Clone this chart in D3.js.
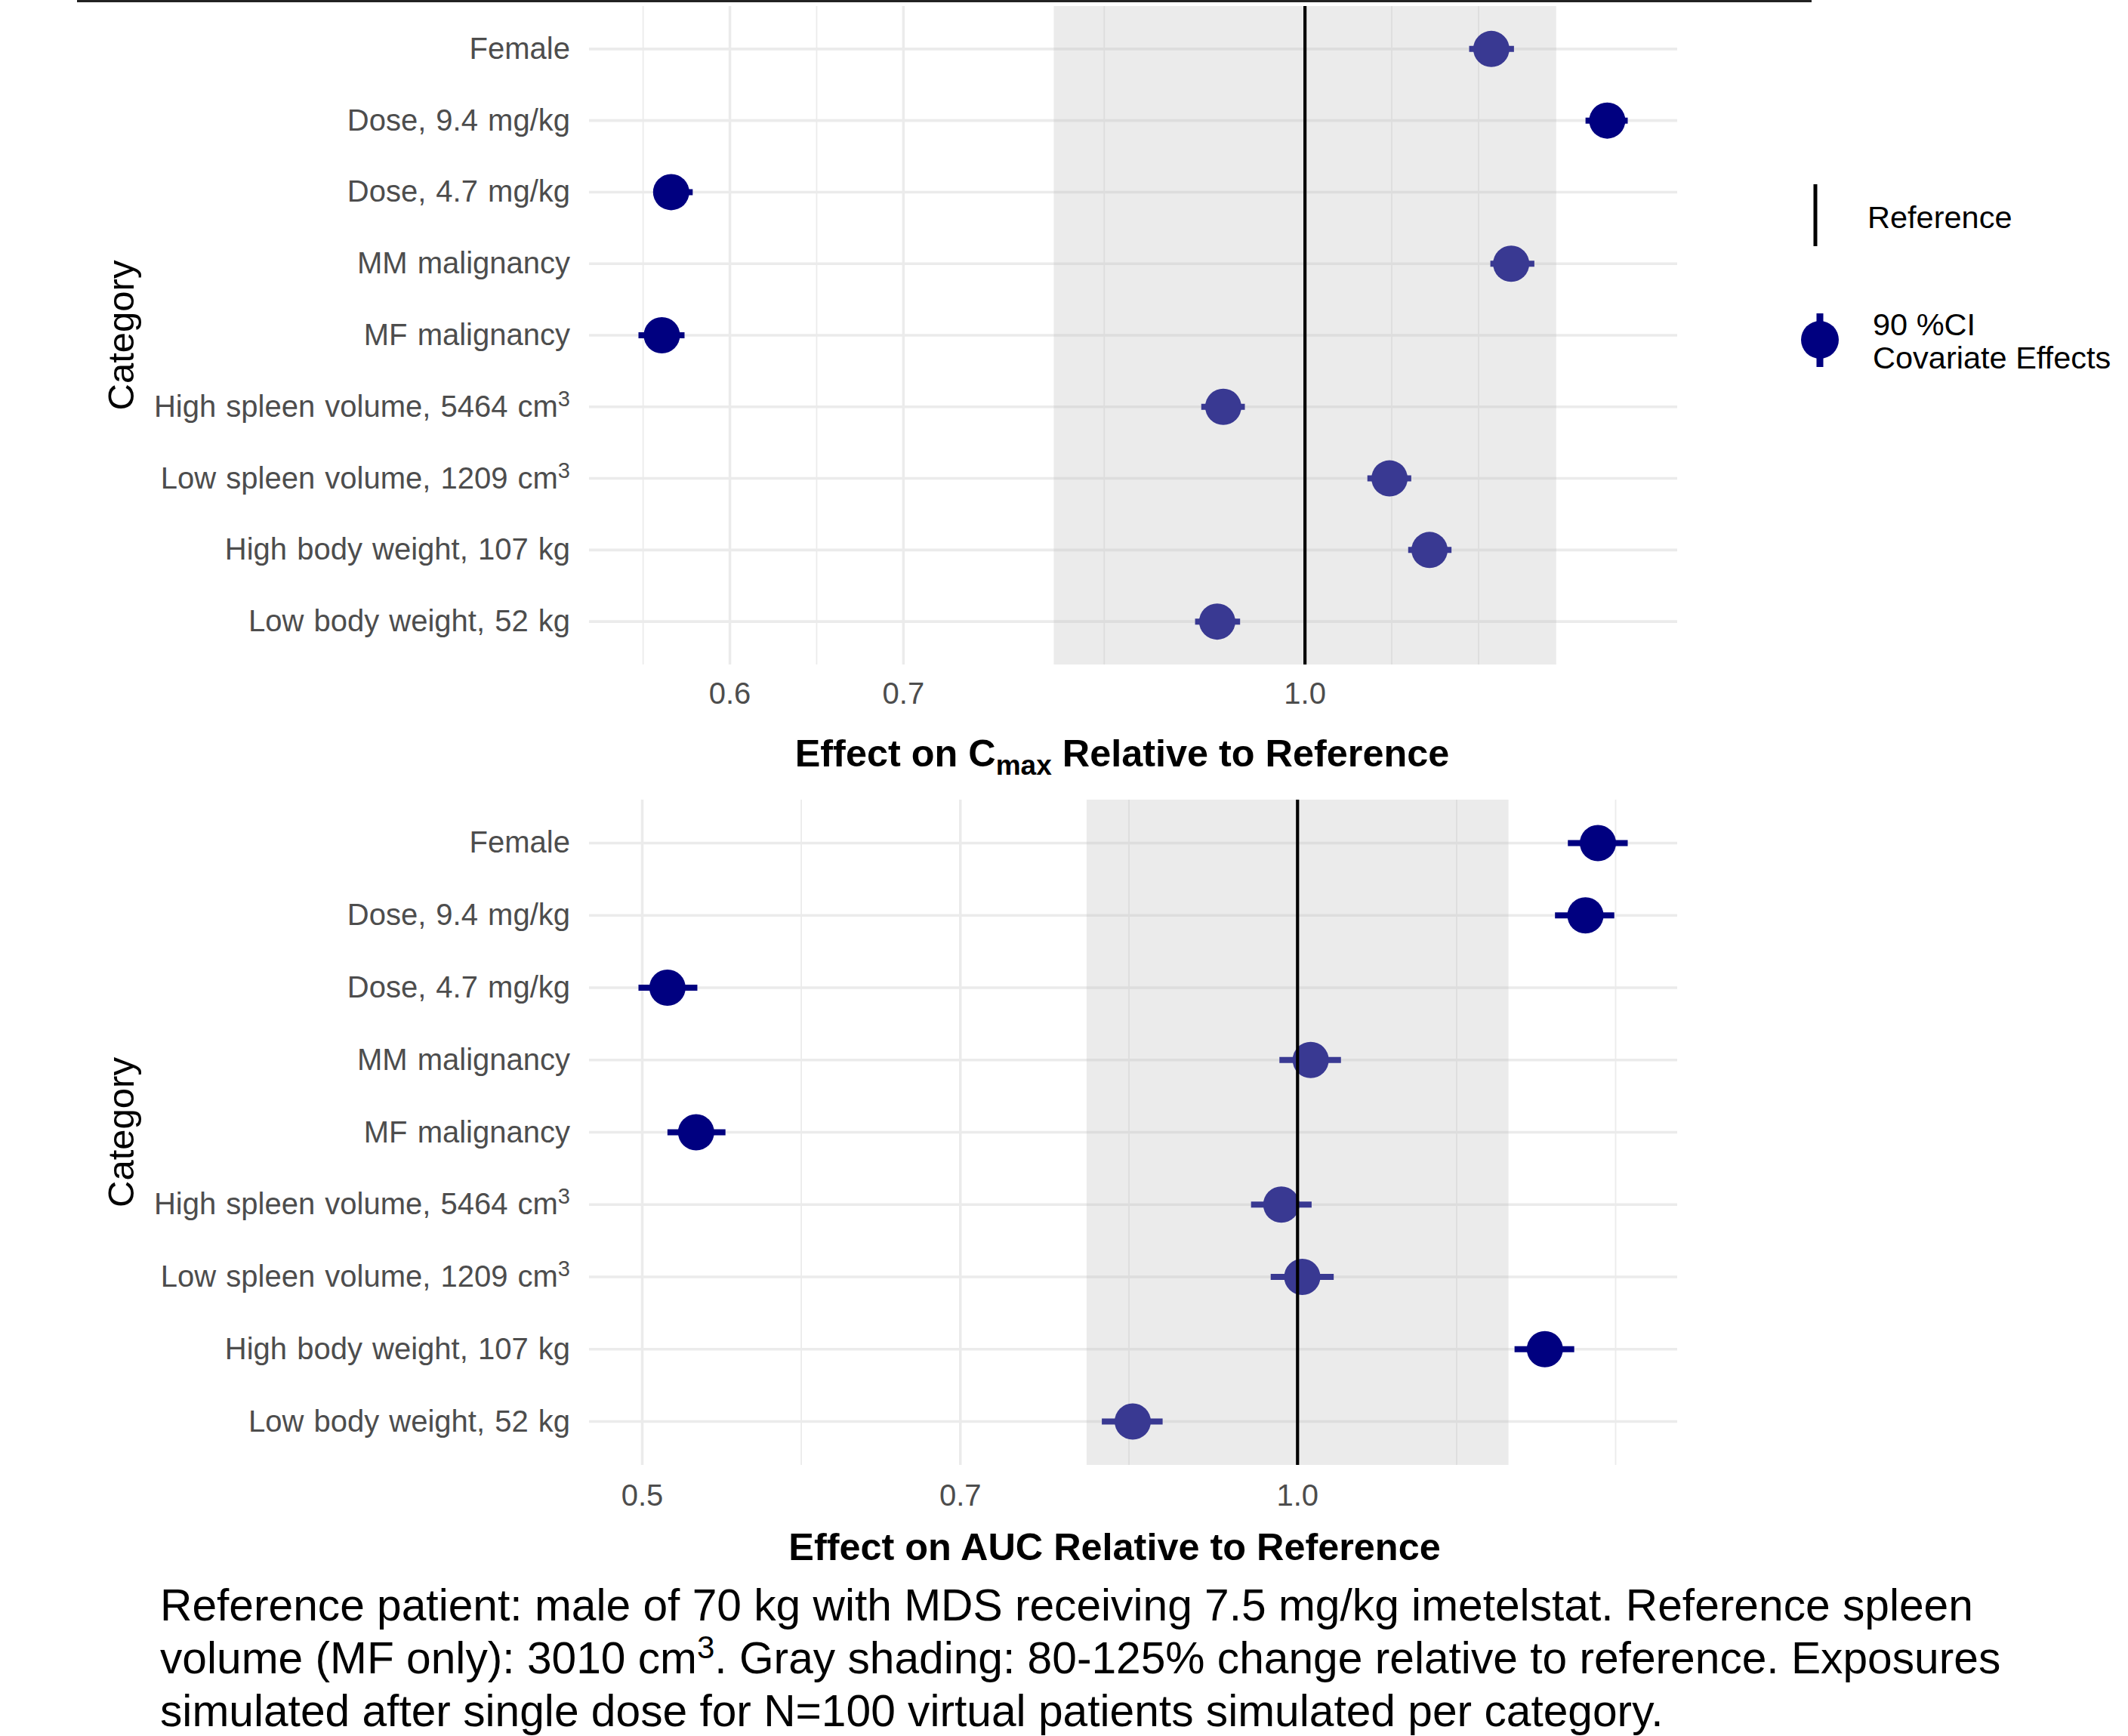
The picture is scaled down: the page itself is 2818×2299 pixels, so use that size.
<!DOCTYPE html>
<html>
<head>
<meta charset="utf-8">
<script src="https://cdn.jsdelivr.net/npm/d3@7"></script>
<style>
  html, body { margin: 0; padding: 0; background: #fff; }
  svg { display: block; font-family: "Liberation Sans", Arial, sans-serif; }
</style>
</head>
<body>
<svg id="chart" width="2818" height="2299"></svg>
<script>
// ---------------- DATA ----------------
const categories = [
  "Female",
  "Dose, 9.4 mg/kg",
  "Dose, 4.7 mg/kg",
  "MM malignancy",
  "MF malignancy",
  "High spleen volume, 5464 cm³",
  "Low spleen volume, 1209 cm³",
  "High body weight, 107 kg",
  "Low body weight, 52 kg"
];

// Effect on Cmax (median and 90% CI)
const cmaxMid = [1.180, 1.308, 0.5695, 1.201, 0.5648, 0.930, 1.078, 1.117, 0.925];
const cmaxLo  = [1.157, 1.283, 0.5606, 1.179, 0.5532, 0.912, 1.057, 1.096, 0.907];
const cmaxHi  = [1.204, 1.332, 0.5805, 1.226, 0.5763, 0.948, 1.099, 1.139, 0.944];

// Effect on AUC (median and 90% CI)
const aucMid = [1.374, 1.356, 0.5135, 1.014, 0.5293, 0.983, 1.005, 1.299, 0.840];
const aucLo  = [1.331, 1.313, 0.498,  0.981, 0.5135, 0.952, 0.972, 1.258, 0.813];
const aucHi  = [1.418, 1.398, 0.530,  1.047, 0.546,  1.015, 1.039, 1.340, 0.867];

const cmaxTicks = [0.6, 0.7, 1.0];
const cmaxTickLabels = ["0.6", "0.7", "1.0"];
const aucTicks = [0.5, 0.7, 1.0];
const aucTickLabels = ["0.5", "0.7", "1.0"];

const shadeRange = [0.8, 1.25];
const referenceValue = 1.0;

const legendLabels = ["Reference", ["90 %CI", "Covariate Effects"]];
const captionLines = [
  "Reference patient: male of 70 kg with MDS receiving 7.5 mg/kg imetelstat. Reference spleen",
  "volume (MF only): 3010 cm³. Gray shading: 80-125% change relative to reference. Exposures",
  "simulated after single dose for N=100 virtual patients simulated per category."
];

// ---------------- LAYOUT ----------------
const svg = d3.select("#chart");
const NAVY = "#000080";
const GRID = "#ebebeb";
const panelX = [780, 2221];

const panels = [
  { mid: cmaxMid, lo: cmaxLo, hi: cmaxHi, ticks: cmaxTicks, labels: cmaxTickLabels,
    top: 8, bottom: 880, tickBase: 932, titleBase: 1015, titleX: 1486,
    title: ["Effect on C", "max", " Relative to Reference"] },
  { mid: aucMid, lo: aucLo, hi: aucHi, ticks: aucTicks, labels: aucTickLabels,
    top: 1059, bottom: 1940, tickBase: 1994, titleBase: 2066, titleX: 1476,
    title: ["Effect on AUC Relative to Reference"] }
];

// top border line fragment
svg.append("line").attr("x1", 102).attr("x2", 2399).attr("y1", 1.5).attr("y2", 1.5)
  .attr("stroke", "#222").attr("stroke-width", 3);

function minorBreaks(ticks) {
  // ggplot-style regular minor breaks in log space
  const b = ticks.map(Math.log10);
  const bd = b[1] - b[0];
  const ext = [b[0] - bd, ...b, b[b.length - 1] + bd];
  const out = [];
  for (let i = 0; i < ext.length - 1; i++) {
    out.push((ext[i] + ext[i + 1]) / 2);
    if (i === 0 || i === ext.length - 2) { out.push(ext[i]); out.push(ext[i + 1]); }
  }
  return out.map(v => Math.pow(10, v));
}

panels.forEach(p => {
  const g = svg.append("g");
  const lnLo = Math.log(d3.min(p.lo)), lnHi = Math.log(d3.max(p.hi));
  const pad = (lnHi - lnLo) * 0.05;
  const x = d3.scaleLog().domain([Math.exp(lnLo - pad), Math.exp(lnHi + pad)]).range(panelX);
  const y = d3.scalePoint().domain(categories).range([p.top, p.bottom]).padding(0.6);
  const [dmin, dmax] = x.domain();

  // minor vertical gridlines
  const minors = minorBreaks(p.ticks).filter(v => v >= dmin && v <= dmax && !p.ticks.some(t => Math.abs(t - v) < 1e-9));
  g.selectAll(".minor").data(minors).join("line")
    .attr("x1", d => x(d)).attr("x2", d => x(d))
    .attr("y1", p.top).attr("y2", p.bottom)
    .attr("stroke", GRID).attr("stroke-width", 1.8);
  // major vertical gridlines
  g.selectAll(".major").data(p.ticks).join("line")
    .attr("x1", d => x(d)).attr("x2", d => x(d))
    .attr("y1", p.top).attr("y2", p.bottom)
    .attr("stroke", GRID).attr("stroke-width", 3.5);
  // horizontal gridlines
  g.selectAll(".hgrid").data(categories).join("line")
    .attr("x1", panelX[0]).attr("x2", panelX[1])
    .attr("y1", d => y(d)).attr("y2", d => y(d))
    .attr("stroke", GRID).attr("stroke-width", 3.6);

  // error bars
  g.selectAll(".ci").data(categories).join("line")
    .attr("x1", (d, i) => x(p.lo[i])).attr("x2", (d, i) => x(p.hi[i]))
    .attr("y1", d => y(d)).attr("y2", d => y(d))
    .attr("stroke", NAVY).attr("stroke-width", 8);
  // points
  g.selectAll(".pt").data(categories).join("circle")
    .attr("cx", (d, i) => x(p.mid[i])).attr("cy", d => y(d))
    .attr("r", 24).attr("fill", NAVY);

  // shading overlay
  g.append("rect")
    .attr("x", x(shadeRange[0])).attr("width", x(shadeRange[1]) - x(shadeRange[0]))
    .attr("y", p.top).attr("height", p.bottom - p.top)
    .attr("fill", "#bebebe").attr("fill-opacity", 0.3);

  // reference line
  g.append("line")
    .attr("x1", x(referenceValue)).attr("x2", x(referenceValue))
    .attr("y1", p.top).attr("y2", p.bottom)
    .attr("stroke", "#000").attr("stroke-width", 4.2);

  // x tick labels
  g.selectAll(".tl").data(p.ticks).join("text")
    .attr("x", d => x(d)).attr("y", p.tickBase)
    .attr("text-anchor", "middle").attr("font-size", 40).attr("fill", "#4d4d4d")
    .text((d, i) => p.labels[i]);

  // y labels
  const yl = g.selectAll(".yl").data(categories).join("text")
    .attr("x", 755).attr("y", d => y(d) + 13)
    .attr("text-anchor", "end").attr("font-size", 40).attr("fill", "#4d4d4d")
    .attr("word-spacing", 2);
  yl.each(function(d) {
    const t = d3.select(this);
    const parts = d.split("³");
    t.append("tspan").text(parts[0]);
    if (parts.length > 1) {
      t.append("tspan").attr("dy", -14).attr("font-size", 29).text("3");
    }
  });

  // y title
  g.append("text")
    .attr("transform", `translate(177,${(p.top + p.bottom) / 2}) rotate(-90)`)
    .attr("text-anchor", "middle").attr("font-size", 49).attr("fill", "#000")
    .text("Category");

  // x title
  const tt = g.append("text")
    .attr("x", p.titleX).attr("y", p.titleBase)
    .attr("text-anchor", "middle").attr("font-size", 50.4).attr("font-weight", "bold").attr("fill", "#000");
  if (p.title.length === 3) {
    tt.append("tspan").text(p.title[0]);
    tt.append("tspan").attr("font-size", 37).attr("dy", 11).text(p.title[1]);
    tt.append("tspan").attr("dy", -11).text(p.title[2]);
  } else {
    tt.text(p.title[0]);
  }
});

// ---------------- LEGEND ----------------
const lg = svg.append("g");
lg.append("line").attr("x1", 2404).attr("x2", 2404).attr("y1", 244).attr("y2", 326)
  .attr("stroke", "#000").attr("stroke-width", 5);
lg.append("text").attr("x", 2473).attr("y", 302).attr("font-size", 41.5).attr("fill", "#000")
  .text(legendLabels[0]);
lg.append("line").attr("x1", 2410).attr("x2", 2410).attr("y1", 415).attr("y2", 486)
  .attr("stroke", NAVY).attr("stroke-width", 9);
lg.append("circle").attr("cx", 2410).attr("cy", 450).attr("r", 25).attr("fill", NAVY);
lg.selectAll(".lt").data(legendLabels[1]).join("text")
  .attr("x", 2480).attr("y", (d, i) => 444 + i * 44)
  .attr("font-size", 41.5).attr("fill", "#000").text(d => d);

// ---------------- CAPTION ----------------
const cap = svg.append("g");
captionLines.forEach((line, i) => {
  const t = cap.append("text").attr("x", 212).attr("y", 2146 + i * 70)
    .attr("font-size", 58.7).attr("fill", "#000");
  const parts = line.split("³");
  t.append("tspan").text(parts[0]);
  if (parts.length > 1) {
    t.append("tspan").attr("dy", -20).attr("font-size", 42).text("3");
    t.append("tspan").attr("dy", 20).text(parts[1]);
  }
});
</script>
</body>
</html>
